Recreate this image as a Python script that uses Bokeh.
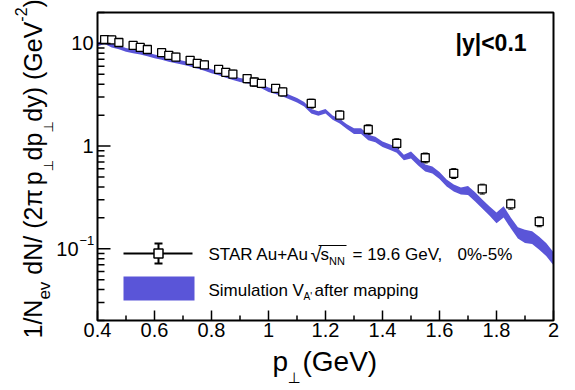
import math
from bokeh.plotting import figure
from bokeh.models import (Range1d, LinearScale, Whisker, TeeHead, Label, ColumnDataSource)
from bokeh.embed import file_html
from bokeh.resources import INLINE

# ---------------- data ----------------
star_pt = [0.425, 0.45, 0.475, 0.525, 0.55, 0.575, 0.625, 0.65, 0.675, 0.725,
           0.75, 0.775, 0.825, 0.85, 0.875, 0.925, 0.95, 0.975, 1.025, 1.05,
           1.15, 1.25, 1.35, 1.45, 1.55, 1.65, 1.75, 1.85, 1.95]
star_val = [10.9, 10.8, 10.2, 9.56, 9.13, 8.72, 8.12, 7.65, 7.36, 6.84,
            6.38, 6.19, 5.59, 5.23, 5.03, 4.54, 4.21, 4.08, 3.65, 3.37,
            2.60, 2.00, 1.45, 1.06, 0.77, 0.543, 0.383, 0.273, 0.184]
star_relerr = [0.09, 0.09, 0.09, 0.09, 0.09, 0.09, 0.09, 0.09, 0.09, 0.09,
               0.09, 0.09, 0.09, 0.09, 0.09, 0.09, 0.09, 0.09, 0.09, 0.09,
               0.10, 0.10, 0.11, 0.11, 0.11, 0.11, 0.11, 0.11, 0.11]

sim_pt = [0.400, 0.425, 0.450, 0.475, 0.500, 0.525, 0.550, 0.575, 0.600, 0.625,
          0.650, 0.675, 0.700, 0.725, 0.750, 0.775, 0.800, 0.825, 0.850, 0.875,
          0.900, 0.925, 0.950, 0.975, 1.000, 1.025, 1.050, 1.075, 1.100, 1.125,
          1.150, 1.175, 1.200, 1.225, 1.250, 1.275, 1.300, 1.325, 1.350, 1.375,
          1.400, 1.425, 1.450, 1.475, 1.500, 1.525, 1.550, 1.575, 1.600, 1.625,
          1.650, 1.675, 1.700, 1.725, 1.750, 1.775, 1.800, 1.825, 1.850, 1.875,
          1.900, 1.925, 1.950, 1.975, 2.000]
sim_lo = [9.39, 9.89, 9.13, 8.79, 8.31, 8.03, 7.80, 7.51, 7.18, 6.92,
          6.61, 6.40, 6.18, 5.96, 5.69, 5.41, 5.12, 4.89, 4.63, 4.40,
          4.20, 4.09, 3.91, 3.66, 3.36, 3.21, 3.04, 2.84, 2.66, 2.43,
          2.08, 1.97, 2.08, 1.80, 1.66, 1.47, 1.31, 1.31, 1.14, 1.09,
          0.982, 0.919, 0.859, 0.727, 0.756, 0.647, 0.566, 0.541, 0.478, 0.404,
          0.362, 0.338, 0.334, 0.289, 0.247, 0.211, 0.177, 0.202, 0.158, 0.126,
          0.114, 0.111, 0.0979, 0.0846, 0.0692]
sim_hi = [10.18, 10.72, 9.89, 9.52, 9.00, 8.71, 8.46, 8.14, 7.79, 7.56,
          7.23, 6.99, 6.77, 6.51, 6.23, 5.92, 5.59, 5.35, 5.06, 4.82,
          4.60, 4.47, 4.28, 4.00, 3.72, 3.56, 3.37, 3.15, 2.94, 2.69,
          2.30, 2.18, 2.30, 1.99, 1.84, 1.63, 1.49, 1.49, 1.29, 1.23,
          1.11, 1.04, 0.974, 0.823, 0.884, 0.756, 0.661, 0.632, 0.559, 0.473,
          0.423, 0.395, 0.409, 0.354, 0.302, 0.259, 0.226, 0.259, 0.202, 0.162,
          0.153, 0.148, 0.131, 0.113, 0.0925]

x_ticks = [0.4, 0.6, 0.8, 1.0, 1.2, 1.4, 1.6, 1.8, 2.0]
x_tick_labels = ["0.4", "0.6", "0.8", "1", "1.2", "1.4", "1.6", "1.8", "2"]
x_minor = [0.5, 0.7, 0.9, 1.1, 1.3, 1.5, 1.7, 1.9]
y_ticks = [0.1, 1.0, 10.0]
y_tick_labels = [("10", "\u22121"), ("1", ""), ("10", "")]
y_minor = [k * 10.0 ** d for d in (-2, -1, 0, 1) for k in range(2, 10)
           if 0.02 <= k * 10.0 ** d <= 20]
X_MIN, X_MAX = 0.4, 2.0
Y_MIN, Y_MAX = 0.02, 20

BAND = "#5a55d8"
FONT = "Liberation Sans"

# ---------------- layout (pixels) ----------------
W, H = 575, 390
FL, FR, FT, FB = 97, 22, 12, 70          # plotting-box borders
FW, FH = W - FL - FR, H - FT - FB
sx = (X_MAX - X_MIN) / FW                  # data per px (x)
sd = (math.log10(Y_MAX) - math.log10(Y_MIN)) / FH   # decades per px (y)

# the canvas itself is the Bokeh frame; the data box sits inside it
p = figure(width=W, height=H,
           x_range=Range1d(X_MIN - FL * sx, X_MAX + FR * sx),
           y_range=Range1d(10 ** (math.log10(Y_MIN) - FB * sd),
                           10 ** (math.log10(Y_MAX) + FT * sd)),
           y_axis_type="log", output_backend="svg", toolbar_location=None,
           x_axis_location=None, y_axis_location=None,
           min_border=0, min_border_left=0, min_border_right=0,
           min_border_top=0, min_border_bottom=0)
p.extra_x_ranges = {"px": Range1d(0, W)}
p.extra_y_ranges = {"px": Range1d(0, H)}
p.extra_x_scales = {"px": LinearScale()}
p.extra_y_scales = {"px": LinearScale()}
p.background_fill_color = "white"
p.border_fill_color = "white"
p.outline_line_color = None
p.grid.visible = False


def fx(X):
    return X


def fy(Y):
    return H - Y


def put(text, x, y, size, font=FONT, bold=False, angle=0.0, align="left",
        baseline="middle", xu="screen", yu="screen", xoff=0, yoff=0):
    p.add_layout(Label(x=x, y=y, x_units=xu, y_units=yu,
                       text=text, text_font=font, text_font_size=f"{size}px",
                       text_font_style="bold" if bold else "normal",
                       text_color="black", angle=angle, text_align=align,
                       text_baseline=baseline, x_offset=xoff, y_offset=yoff))


MID = 0.36   # distance (em) from alphabetic baseline to the visual middle


def lab(text, X, Y, size, angle=0.0, **kw):
    """(X, Y) = start of the alphabetic baseline, in image pixels."""
    if angle:
        X = X - MID * size
    else:
        Y = Y - MID * size
    put(text, fx(X), fy(Y), size, angle=angle, **kw)


# ---------------- band ----------------
band_src = ColumnDataSource(dict(x=sim_pt, lo=sim_lo, hi=sim_hi))
p.varea(x="x", y1="lo", y2="hi", source=band_src, fill_color=BAND)

# ---------------- STAR points ----------------
pts = ColumnDataSource(dict(
    x=star_pt, y=star_val,
    lo=[v * (1 - e) for v, e in zip(star_val, star_relerr)],
    hi=[v * (1 + e) for v, e in zip(star_val, star_relerr)]))
p.add_layout(Whisker(base="x", upper="hi", lower="lo", source=pts, dimension="height",
                     line_color="black", line_width=1,
                     upper_head=TeeHead(size=5, line_color="black", line_width=1),
                     lower_head=TeeHead(size=5, line_color="black", line_width=1)))
p.scatter(x="x", y="y", source=pts, marker="square", size=8,
          fill_color="white", line_color="black", line_width=1.3)

# ---------------- axes box and ticks ----------------
p.quad(left=[X_MIN], right=[X_MAX], bottom=[Y_MIN], top=[Y_MAX], fill_color=None,
       line_color="black", line_width=2)
ybot = fy(FT + FH)
p.segment(x0=x_ticks, x1=x_ticks, y0=[ybot] * len(x_ticks), y1=[ybot + 10] * len(x_ticks),
          y_range_name="px", line_color="black", line_width=1.5)
p.segment(x0=x_minor, x1=x_minor, y0=[ybot] * len(x_minor), y1=[ybot + 5] * len(x_minor),
          y_range_name="px", line_color="black", line_width=1.5)
p.segment(x0=[FL] * len(y_ticks), x1=[FL + 13] * len(y_ticks), y0=y_ticks, y1=y_ticks,
          x_range_name="px", line_color="black", line_width=1.5)
p.segment(x0=[FL] * len(y_minor), x1=[FL + 7] * len(y_minor), y0=y_minor, y1=y_minor,
          x_range_name="px", line_color="black", line_width=1.5)

for t, l in zip(x_ticks, x_tick_labels):
    put(l, t, fy(322), 20, xu="data", align="center", baseline="top")

for t, (base, sup) in zip(y_ticks, y_tick_labels):
    if sup:
        put(base, fx(78), t, 20, yu="data", align="right")
        put(sup, fx(79), t, 13, yu="data", align="left", yoff=8)
    else:
        put(base, fx(93), t, 20, yu="data", align="right")

# ---------------- y axis title (rotated, sequential runs) ----------------
ADV = {'1': .556, '/': .278, 'N': .722, 'e': .556, 'v': .5, ' ': .278, 'd': .556,
       '(': .333, '2': .556, '\u03c0': .58, 'p': .556, 'y': .5, ')': .333,
       'G': .778, 'V': .667, '-': .333, '\u22a5': .838}
runs = [("1/N", 25, 0, FONT), ("ev", 17, -9, FONT), (" dN/ (2\u03c0 ", 25, 0, FONT),
        ("p", 25, 0, FONT), ("\u22a5", 13, -12, "DejaVu Sans"), ("dp", 25, 0, FONT),
        ("\u22a5", 13, -12, "DejaVu Sans"), ("dy) (GeV", 25, 0, FONT),
        ("-2", 16, 15, FONT), (")", 25, 0, FONT)]
Ycur, Xbase = 338, 41
for text, size, shift, font in runs:
    while text.startswith(" "):          # SVG drops leading blanks: advance by hand
        Ycur -= ADV[" "] * size
        text = text[1:]
    lab(text, Xbase - shift, Ycur, size, font=font, angle=math.pi / 2)
    Ycur -= sum(ADV.get(c, .556) for c in text) * size

# ---------------- x axis title ----------------
lab("p", 272, 371, 28)
lab("\u22a5", 287, 383, 15, font="DejaVu Sans")
lab("(GeV)", 302, 371, 28)

# ---------------- |y| label ----------------
lab("|y|<0.1", 455, 51, 23, bold=True)

# ---------------- legend ----------------
kw = dict(x_range_name="px", y_range_name="px")
p.segment(x0=[fx(123)], y0=[fy(253)], x1=[fx(192)], y1=[fy(253)], line_color="black",
          line_width=2, **kw)
p.segment(x0=[fx(158)], y0=[fy(243)], x1=[fx(158)], y1=[fy(263)], line_color="black",
          line_width=2, **kw)
p.segment(x0=[fx(154), fx(154)], y0=[fy(243), fy(263)], x1=[fx(162), fx(162)],
          y1=[fy(243), fy(263)], line_color="black", line_width=2, **kw)
p.scatter(x=[fx(158)], y=[fy(253)], marker="square", size=9, fill_color="white",
          line_color="black", line_width=1.5, **kw)
p.quad(left=[fx(123)], right=[fx(194)], top=[fy(276)], bottom=[fy(300)],
       fill_color=BAND, line_color=None, **kw)

lab("STAR Au+Au", 208, 260, 17)
lab("\u221a", 310, 262, 20)
p.segment(x0=[fx(318)], y0=[fy(245)], x1=[fx(346)], y1=[fy(245)], line_color="black",
          line_width=1.2, **kw)
lab("s", 320, 260, 17)
lab("NN", 328.5, 264, 11)
lab("= 19.6 GeV,", 352, 260, 17)
lab("0%-5%", 457, 260, 17)

lab("Simulation V", 208, 296, 17)
lab("A'", 303, 300, 10)
lab("after mapping", 314, 296, 17)

open("out.html", "w").write(file_html(p, INLINE))
